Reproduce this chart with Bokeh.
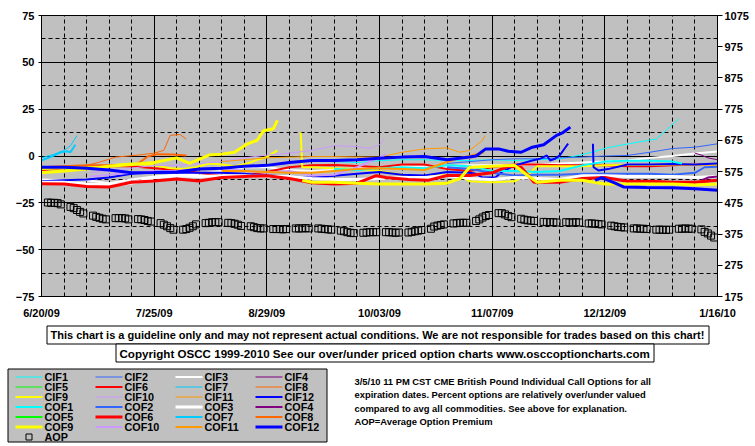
from bokeh.plotting import figure
from bokeh.models import Range1d, LinearAxis, FixedTicker
from bokeh.layouts import column
from bokeh.core.properties import value
from bokeh.embed import file_html
from bokeh.resources import INLINE

FONT = "Liberation Sans"

# ---------------- axes (x = days since 6/20/09) ----------------
X_TICKS = [0, 35, 70, 105, 140, 175, 210]
X_TICK_LABELS = ["6/20/09", "7/25/09", "8/29/09", "10/03/09", "11/07/09", "12/12/09", "1/16/10"]
X_MINOR = [7, 14, 21, 28, 42, 49, 56, 63, 77, 84, 91, 98, 112, 119, 126, 133,
           147, 154, 161, 168, 182, 189, 196, 203]
Y_TICKS = [-75, -50, -25, 0, 25, 50, 75]
Y_MINOR = [-62.5, -37.5, -12.5, 12.5, 37.5, 62.5]
AOP_TICKS = [175, 275, 375, 475, 575, 675, 775, 875, 975, 1075]

WEEK_DAYS = [0, 7, 14, 21, 28, 35, 42, 49, 56, 63, 70, 77, 84, 91, 98, 105, 112, 119,
             126, 133, 140, 147, 154, 161, 168, 175, 182, 189, 196, 203, 210]

# ---------------- series (percent over/under valued) ----------------
CIF1_D = [91, 98, 105, 112, 119, 126, 133, 140, 147, 154, 161, 166, 171, 176, 182.4, 188.6, 191, 194, 198]
CIF1_V = [-3, -3.5, -2.5, -2, -2, -2.5, -2.4, -2, -2.4, -2, -1.5, 0, 2, 4.5, 6.5, 8.4, 9, 13.6, 19.9]
COF1_D = [91, 98, 105, 112, 119, 126, 133, 140, 147, 154, 161, 168, 175, 182, 189, 196, 199]
COF1_V = [-7, -7.5, -6.5, -6, -6.5, -5, -5.5, -8, -8, -8.5, -8, -5, -3, -2.5, -2.5, -3, -4]

CIF2_D = [126, 133, 140, 147, 154, 161, 168, 175, 182, 189, 196, 203, 210]
CIF2_V = [-4, -3, -2, -1.5, -1.5, -1, -0.6, 0, 0.3, 2, 4, 4.7, 6.5]
COF2_D = [126, 133, 140, 147, 154, 161, 168, 175, 182, 189, 196, 203, 206, 210]
COF2_V = [-6, -7, -9, -10.4, -10, -10, -9.5, -9.5, -9.5, -9.5, -10, -9, -6, -5.8]

CIF3_V = [-12.5, -13, -13, -14.5, -12.5, -11, -10, -9.5, -8, -6, -6, -7.5, -8, -7.5, -6.5, -6,
          -5.5, -6, -5.5, -5, -5, -5, -4.5, -4, -3.5, -3, -2.4, -1, 0, 1.3, 2.4]
COF3_V = [-14, -14, -15, -15.5, -14.5, -11.5, -10.5, -11, -10.5, -10.5, -11, -11, -12, -12.5, -12.5,
          -12, -11.5, -11.5, -10.5, -12, -12.5, -11.5, -12, -12.5, -10.5, -10.5, -11, -11, -11, -11.5, -11]

CIF4_D = [203, 205, 207, 210]
CIF4_V = [1.5, 0.5, -1, -2]
COF4_D = [205, 207, 210]
COF4_V = [-13, -11.5, -11]

CIF5_D, CIF5_V = [], []
COF5_D, COF5_V = [], []

CIF6_V = [-7.5, -6.5, -6, -5.5, -5.5, -6.5, -7.5, -9, -10.5, -10.5, -8.5, -6, -5, -4.8, -5.3, -6,
          -4.5, -4.5, -7, -8, -6, -4.5, -4.5, -5, -5, -5, -5.5, -5.5, -5, -4.5, -4.5]
COF6_D = [0, 7, 14, 21, 28, 35, 42, 49, 56, 63, 70, 77, 84, 91, 98, 104, 107, 114, 120, 126, 133,
          140, 145, 149, 153, 161, 168, 175, 182, 189, 196, 203, 210]
COF6_V = [-14.8, -15, -16.3, -16.5, -14, -13.4, -12.3, -13.4, -11.5, -11, -10.5, -12, -14.3, -15,
          -14.5, -10.5, -11.5, -12.5, -13, -10.4, -10.4, -9, -5.5, -6, -14, -14, -12, -11.5, -13.5,
          -13.5, -14, -14, -13]

CIF7_D = [0, 4, 7, 9, 11]
CIF7_V = [-1, 1, 3, 5.5, 10.9]
COF7_D = [0, 4, 6, 8, 9, 10.5]
COF7_V = [-2.4, 0.3, 2, 2.5, 2, 6]

CIF8_D = [8, 14, 18, 23, 30, 35, 38, 40, 43, 45]
CIF8_V = [-8, -5, -3.3, -0.6, 0.5, 1.5, 3, 11, 11.5, 9]
COF8_D = [0, 7, 14, 21, 28, 30, 33, 36, 41, 45]
COF8_V = [-6, -5.5, -5, -5, -5, -4, -0.3, 1, 0.8, 0.3]

CIF9_OLD_D = [0, 7, 14, 21, 28, 35, 40, 44, 48, 52, 56, 60, 64, 67, 70, 73.3]
CIF9_OLD_V = [-7, -6.5, -6, -5, -4, -5, -6.5, -7, -6, -4, -4.5, -5.5, -4, -2, -0.5, 3]
COF9_OLD_D = [0, 7, 14, 21, 28, 35, 42, 46, 52, 56, 60, 64, 67, 69, 72, 73.3]
COF9_OLD_V = [-9, -8, -7, -5.5, -4.5, -3.5, -1, -4, 0.5, 1, 2, 6.5, 8.4, 13.5, 14.5, 19]
CIF9_NEW_D = [80.5, 81, 84, 91, 98, 105, 112, 119, 126, 130, 133, 140, 147, 151, 154, 161, 168,
              175, 182, 189, 196, 203, 210]
CIF9_NEW_V = [12.7, -6, -6, -6.5, -7, -8, -10, -11, -10, -10.5, -13.5, -14, -13.5, -10, -5.5, -5.5,
              -5.5, -5, -4.8, -4.8, -4.5, -4.5, -4.5]
COF9_NEW_D = [81, 84, 91, 98, 105, 112, 119, 126, 130, 133, 140, 147, 151, 154, 161, 168, 175, 182,
              189, 196, 203, 210]
COF9_NEW_V = [-13, -14, -14, -14.5, -15, -15, -15, -14.5, -12, -6, -5.5, -5, -10.4, -14, -13, -13,
              -15, -15, -15, -15, -15.5, -15]

CIF10_D = [15, 21, 28, 35, 42, 49, 56, 63, 70, 77, 84, 91, 98, 102, 105, 106.5]
CIF10_V = [-9, -8, -6.5, -5, -5, -4, -3, -1, 0.5, 1.5, 3, 5.5, 5, 4, 6, 9.2]
COF10_D = [15, 21, 28, 35, 42, 49, 56, 63, 70, 77, 84, 91, 98, 102, 105, 107]
COF10_V = [-11, -10, -9, -8, -8, -7, -6.5, -8, -9, -8, -10.4, -10, -6, -3, -1, 1]

CIF11_D = [56, 63, 70, 77, 84, 91, 98, 105, 112, 119, 126, 130, 133, 135, 137, 137.8]
CIF11_V = [-3, -2, -1, -0.6, -0.3, -0.3, -0.5, -0.6, 2, 3.8, 4.3, 2, 3, 5.6, 8.3, 11]
COF11_D = [56, 63, 70, 77, 84, 91, 98, 105, 112, 119, 124.6, 130, 133, 135, 137.5]
COF11_V = [-8, -8, -8.5, -9, -9, -8, -7, -6.5, -7, -7.5, -4, -1, 0, 1, 2]

CIF12_OLD_D = [0, 7, 14, 21, 28, 35, 42, 49, 56, 63, 70, 77, 84, 91, 98, 105, 112, 119, 126, 133,
               135, 137, 141, 143, 147, 152.5, 155, 157, 158, 159.5, 161, 162.5, 163.6]
CIF12_OLD_V = [-13.5, -13, -12.5, -11.5, -9.5, -8.8, -9, -9, -9, -9.5, -10.4, -11, -11.5, -10.5, -9.5,
               -8.6, -10, -10.4, -8.5, -9, -9.5, -11.5, -11.5, -8.5, -5, -2.4, -1.4, 0.3, -2.4, -1.5,
               0.3, 4, 6.6]
COF12_OLD_D = [0, 7, 14, 21, 28, 35, 42, 49, 56, 63, 70, 77, 84, 91, 98, 105, 112, 119, 126, 133,
               135, 138, 142, 145, 149, 152.5, 156, 160, 162, 164.3]
COF12_OLD_V = [-6, -6, -6.5, -7.5, -9, -8.8, -8.5, -7, -6.5, -5.5, -5, -3.5, -2.4, -2.4, -2, -1.2,
               -0.6, -0.3, -2, -0.5, 0, 3.8, 3.8, 2.5, 2, 4.7, 6, 11, 12.5, 15.4]
CIF12_NEW_D = [171.3, 171.5, 173, 176, 182, 189, 196, 203, 210]
CIF12_NEW_V = [6.5, -6, -7.7, -7, -4.5, -4.5, -4.3, -4.5, -4]
COF12_NEW_D = [172, 174, 178, 181, 188, 196, 203, 210]
COF12_NEW_V = [-13, -11.5, -14.3, -16.6, -16.8, -17, -17.5, -18.3]

# Average option premium (right axis), one value per trading day
AOP_V = [476, 475, 475, 474, 470, 462, 458, 452, 446, 441, 434, 430, 427, 424, 422,
         426, 426, 426, 425, 422, 423, 422, 420, 417, 415, 410, 405, 400, 394, 389,
         389, 391, 395, 400, 406, 410, 411, 413, 413, 413, 411, 410, 408, 405, 401,
         400, 397, 394, 393, 393, 391, 391, 391, 390, 391, 393, 393, 393, 394, 393,
         393, 392, 391, 390, 389, 386, 384, 381, 379, 378, 379, 380, 381, 381, 381,
         381, 381, 380, 379, 380, 380, 382, 384, 386, 388, 392, 399, 402, 404, 406,
         409, 410, 411, 411, 411, 417, 422, 428, 433, 436, 442, 442, 438, 433, 429,
         424, 421, 419, 418, 417, 414, 413, 413, 413, 412, 413, 412, 412, 413, 412,
         409, 409, 408, 407, 406, 402, 400, 398, 397, 396, 393, 393, 392, 392, 391,
         389, 389, 389, 388, 389, 392, 392, 393, 392, 392, 390, 382, 377, 370, 364]
# trading days (Mon-Fri) counted from Saturday 6/20/09
AOP_D = [7 * w + k for w in range(30) for k in range(2, 7)]

NAMES = ["CIF1", "CIF2", "CIF3", "CIF4", "CIF5", "CIF6", "CIF7", "CIF8", "CIF9", "CIF10", "CIF11", "CIF12",
         "COF1", "COF2", "COF3", "COF4", "COF5", "COF6", "COF7", "COF8", "COF9", "COF10", "COF11", "COF12"]
COLORS = ["#00FFFF", "#3366FF", "#FFFFFF", "#800080", "#00FF00", "#FF0000",
          "#00CCFF", "#FF6600", "#FFFF00", "#CC99FF", "#FF9900", "#0000FF"] * 2
WIDTHS = [1, 1, 2, 1, 1, 2, 1, 1, 2, 1, 1, 2,
          2, 2, 3, 2, 2, 3, 2, 2, 3, 2, 2, 3]

SEGMENTS = {
    "CIF1": [(CIF1_D, CIF1_V)], "COF1": [(COF1_D, COF1_V)],
    "CIF2": [(CIF2_D, CIF2_V)], "COF2": [(COF2_D, COF2_V)],
    "CIF3": [(WEEK_DAYS, CIF3_V)], "COF3": [(WEEK_DAYS, COF3_V)],
    "CIF4": [(CIF4_D, CIF4_V)], "COF4": [(COF4_D, COF4_V)],
    "CIF5": [(CIF5_D, CIF5_V)], "COF5": [(COF5_D, COF5_V)],
    "CIF6": [(WEEK_DAYS, CIF6_V)], "COF6": [(COF6_D, COF6_V)],
    "CIF7": [(CIF7_D, CIF7_V)], "COF7": [(COF7_D, COF7_V)],
    "CIF8": [(CIF8_D, CIF8_V)], "COF8": [(COF8_D, COF8_V)],
    "CIF9": [(CIF9_OLD_D, CIF9_OLD_V), (CIF9_NEW_D, CIF9_NEW_V)],
    "COF9": [(COF9_OLD_D, COF9_OLD_V), (COF9_NEW_D, COF9_NEW_V)],
    "CIF10": [(CIF10_D, CIF10_V)], "COF10": [(COF10_D, COF10_V)],
    "CIF11": [(CIF11_D, CIF11_V)], "COF11": [(COF11_D, COF11_V)],
    "CIF12": [(CIF12_OLD_D, CIF12_OLD_V), (CIF12_NEW_D, CIF12_NEW_V)],
    "COF12": [(COF12_OLD_D, COF12_OLD_V), (COF12_NEW_D, COF12_NEW_V)],
}

DISCLAIMER = ("This chart is a guideline only and may not represent actual conditions. "
              "We are not responsible for trades based on this chart!")
COPYRIGHT = "Copyright OSCC 1999-2010 See our over/under priced option charts www.osccoptioncharts.com"
NOTE_LINES = ["3/5/10 11 PM CST CME British Pound Individual Call Options for all",
              "expiration dates. Percent options are relatively over/under valued",
              "compared to avg all commodities. See above for explanation.",
              "AOP=Average Option Premium"]

W = 755
H_TOP = 321
H_BOT = 125

# ---------------- main chart ----------------
pA = figure(width=W, height=H_TOP, x_range=Range1d(0, 210), y_range=Range1d(-75, 75),
            output_backend="svg", toolbar_location=None,
            min_border_left=41, min_border_right=38, min_border_top=15, min_border_bottom=25)
pA.frame_align = False
pA.background_fill_color = "#C0C0C0"
pA.border_fill_color = "white"
pA.outline_line_color = "black"
pA.extra_y_ranges = {"aop": Range1d(175, 1075)}

xt = FixedTicker(ticks=X_TICKS, minor_ticks=X_MINOR)
yt = FixedTicker(ticks=Y_TICKS, minor_ticks=Y_MINOR)
pA.xaxis.ticker = xt
pA.yaxis.ticker = yt
pA.xgrid.ticker = xt
pA.ygrid.ticker = yt
pA.xaxis.major_label_overrides = {t: s for t, s in zip(X_TICKS, X_TICK_LABELS)}

for g in (pA.xgrid[0], pA.ygrid[0]):
    g.grid_line_color = "black"
    g.grid_line_width = 1
    g.minor_grid_line_color = "black"
    g.minor_grid_line_dash = "4 3"

ra = LinearAxis(y_range_name="aop", ticker=FixedTicker(ticks=AOP_TICKS, minor_ticks=[]))
pA.add_layout(ra, "right")

for ax in (pA.xaxis[0], pA.yaxis[0], ra):
    ax.axis_line_color = "black"
    ax.major_tick_line_color = "black"
    ax.major_tick_in = 0
    ax.minor_tick_in = 0
    ax.minor_tick_out = 0
    ax.major_label_text_font = FONT
    ax.major_label_text_font_style = "bold"
    ax.major_label_text_font_size = "11px"
    ax.major_label_text_color = "black"
pA.xaxis.major_tick_out = 0
pA.xaxis.major_label_standoff = 10
pA.yaxis.major_tick_out = 3
pA.yaxis.major_label_standoff = 4
ra.major_tick_out = 5
ra.major_label_standoff = 2

for name, color, width in zip(NAMES, COLORS, WIDTHS):
    for days, vals in SEGMENTS[name]:
        if days:
            pA.line(days, vals, line_color=color, line_width=width)

pA.scatter(AOP_D, AOP_V, marker="square", size=7, fill_color=None, line_color="black",
           line_width=1, y_range_name="aop")

# ---------------- lower panel: notices and legend (pixel coordinates) ----------------
pB = figure(width=W, height=H_BOT, x_range=Range1d(0, W), y_range=Range1d(H_BOT, 0),
            output_backend="svg", toolbar_location=None, x_axis_type=None, y_axis_type=None,
            min_border=0, min_border_left=0, min_border_right=0,
            min_border_top=0, min_border_bottom=0)
pB.frame_align = False
pB.outline_line_color = None
pB.background_fill_color = "white"
pB.border_fill_color = "white"

pB.quad(left=[46.5, 115.5], right=[708.5, 653.5], top=[4.5, 22.5], bottom=[22.5, 40.5],
        fill_color="white", line_color="black", line_width=1)
pB.text([50, 119], [13.5, 31.5], text=[DISCLAIMER, COPYRIGHT], text_baseline="middle",
        text_align="left", text_font=value(FONT), text_font_style="bold",
        text_font_size=["11px", "11.6px"], text_color="black")

pB.quad(left=[7.5], right=[326.5], top=[47.5], bottom=[120.5],
        fill_color="#C0C0C0", line_color="black", line_width=1)

COL_X = [15, 95, 175, 255]
ROW_Y = [55, 65, 75, 85, 95, 105, 115]
SAMPLE_LEN = 27
LABEL_GAP = 2
sx0, sx1, sy, lx, ly, lc, lw = [], [], [], [], [], [], []
for i, name in enumerate(NAMES):
    r, c = divmod(i, 4)
    sx0.append(COL_X[c])
    sx1.append(COL_X[c] + SAMPLE_LEN)
    sy.append(ROW_Y[r] + 0.5)
    lc.append(COLORS[i])
    lw.append(WIDTHS[i])
    lx.append(COL_X[c] + SAMPLE_LEN + LABEL_GAP)
    ly.append(ROW_Y[r] + 0.5)
pB.segment(x0=sx0, y0=sy, x1=sx1, y1=sy, line_color=lc, line_width=lw)
pB.scatter([COL_X[0] + SAMPLE_LEN / 2], [ROW_Y[6] + 0.5], marker="square", size=6,
           fill_color=None, line_color="black", line_width=1)
pB.text(lx + [COL_X[0] + SAMPLE_LEN + LABEL_GAP], ly + [ROW_Y[6] + 0.5],
        text=NAMES + ["AOP"], text_baseline="middle", text_align="left",
        text_font=value(FONT), text_font_style="bold", text_font_size="10.8px",
        text_color="black")

pB.text([354] * 4, [60, 73, 87, 100], text=NOTE_LINES, text_baseline="middle",
        text_align="left", text_font=value(FONT), text_font_style="bold",
        text_font_size="9.4px", text_color="black")

layout = column(pA, pB, spacing=0)
open("out.html", "w").write(file_html(layout, INLINE))
